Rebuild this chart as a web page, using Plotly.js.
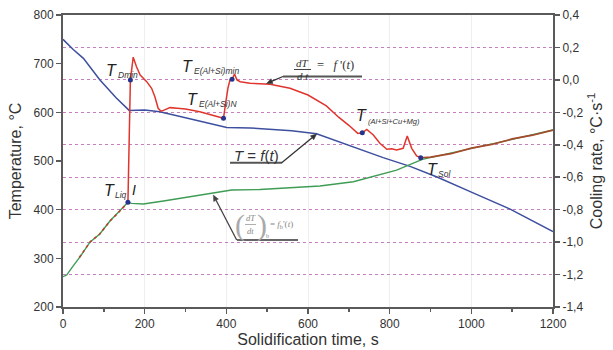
<!DOCTYPE html>
<html><head><meta charset="utf-8">
<script src="https://cdn.plot.ly/plotly-3.0.1.min.js"></script>
<style>html,body{margin:0;padding:0;background:#fff;}#chart{width:613px;height:350px;}</style>
</head><body><div id="chart"></div>
<script>
// ---- Temperature curve T = f(t), left axis (°C)
const tempTime = [0, 25, 50, 90, 130, 162, 200, 237, 300, 360, 401, 458, 507, 560, 621, 670, 722, 784, 850, 916, 1000, 1095, 1200];
const tempVal  = [750, 729, 711, 667, 630, 604, 605, 601, 589, 577, 569, 568, 565, 562, 556, 541, 525, 507, 489, 467, 436, 401, 355];

// ---- Base line (dT/dt)b = fb(t), right axis (°C/s)
const baseTime = [0, 9, 21, 42, 66, 90, 115, 135, 159, 168, 197, 250, 300, 368, 413, 482, 560, 629, 711, 752, 817, 880, 950, 1000, 1100, 1200];
const baseRate = [-1.213, -1.203, -1.16, -1.09, -1.0, -0.95, -0.87, -0.82, -0.755, -0.761, -0.765, -0.745, -0.725, -0.70, -0.679, -0.676, -0.666, -0.654, -0.628, -0.60, -0.556, -0.49, -0.452, -0.424, -0.367, -0.309];

// ---- Cooling rate dT/dt = f'(t), right axis (°C/s)
const rateEarlyTime = [40, 66, 90, 115, 135, 159];
const rateEarlyVal  = [-1.095, -1.0, -0.95, -0.87, -0.82, -0.755];
const rateTime = [159, 162, 165, 172, 180, 189, 197, 205, 217, 225, 233, 240, 246, 262, 280, 300, 335, 376, 393, 398, 404, 409, 414, 420, 426, 434, 458, 507, 556, 600, 645, 675, 700, 722, 733, 744, 760, 776, 793, 805, 817, 833, 843, 854, 866, 876];
const rateVal  = [-0.755, -0.40, 0.0, 0.14, 0.081, 0.03, 0.012, -0.011, -0.052, -0.104, -0.175, -0.193, -0.188, -0.171, -0.175, -0.18, -0.196, -0.223, -0.237, -0.15, -0.05, 0.0, 0.004, 0.036, 0.0, -0.011, -0.021, -0.027, -0.052, -0.093, -0.16, -0.23, -0.28, -0.33, -0.326, -0.305, -0.34, -0.391, -0.428, -0.425, -0.432, -0.422, -0.346, -0.422, -0.469, -0.48];
const rateLateTime = [876, 900, 950, 1000, 1050, 1100, 1150, 1200];
const rateLateVal  = [-0.48, -0.476, -0.455, -0.421, -0.398, -0.364, -0.341, -0.309];

// ---- Characteristic points (on the cooling-rate curve)
const pointTime = [159, 165, 393, 414, 733, 876];
const pointRate = [-0.755, 0.0, -0.237, 0.004, -0.326, -0.48];

// ---- Ticks
const timeTicks = [0, 200, 400, 600, 800, 1000, 1200];
const tempTicks = [200, 300, 400, 500, 600, 700, 800];
const rateTicks = [0.4, 0.2, 0.0, -0.2, -0.4, -0.6, -0.8, -1.0, -1.2, -1.4];
const rateTickText = ['0,4', '0,2', '0,0', '-0,2', '-0,4', '-0,6', '-0,8', '-1,0', '-1,2', '-1,4'];

// pixel -> data helpers for annotation placement (plot area 63..553 x 15..307)
const PX = p => (p - 63) / 490 * 1200;
const PY = p => 800 - (p - 15) / 292 * 600;

const SANS = 'Liberation Sans, Arial, sans-serif';
const SERIF = 'Liberation Serif, Times New Roman, serif';

const traces = [
  {x: tempTime, y: tempVal, yaxis: 'y', mode: 'lines', line: {color: '#3d4f9e', width: 1.5}, hoverinfo: 'skip'},
  {x: baseTime, y: baseRate, yaxis: 'y2', mode: 'lines', line: {color: '#3f9c55', width: 1.4}, hoverinfo: 'skip'},
  {x: rateEarlyTime, y: rateEarlyVal, yaxis: 'y2', mode: 'lines', line: {color: '#b8442e', width: 1.6, dash: 'dot'}, hoverinfo: 'skip'},
  {x: rateTime, y: rateVal, yaxis: 'y2', mode: 'lines', line: {color: '#e0352d', width: 1.5}, hoverinfo: 'skip'},
  {x: rateLateTime, y: rateLateVal, yaxis: 'y2', mode: 'lines', line: {color: '#a64a2c', width: 1.7}, hoverinfo: 'skip'},
  {x: pointTime, y: pointRate, yaxis: 'y2', mode: 'markers', marker: {color: '#27348c', size: 5}, hoverinfo: 'skip'}
];

function tLabel(cx, cy, sub, subX, subY, subSize) {
  return [
    {x: PX(cx), y: PY(cy), text: '<i>T</i>', showarrow: false, xanchor: 'center', yanchor: 'middle',
     font: {family: SANS, size: 16, color: '#222'}},
    {x: PX(subX), y: PY(subY), text: '<i>' + sub + '</i>', showarrow: false, xanchor: 'left', yanchor: 'middle',
     font: {family: SANS, size: subSize, color: '#333'}}
  ];
}

// pointer line + filled arrowhead, as shapes (pixel positions converted to data coords)
function pointerShapes(tipX, tipY, tailX, tailY, color) {
  const dx = tipX - tailX, dy = tipY - tailY, L = Math.hypot(dx, dy);
  const ux = dx / L, uy = dy / L, nx = -uy, ny = ux;
  const bx = tipX - ux * 6, by = tipY - uy * 6;
  const p1 = [bx + nx * 2.6, by + ny * 2.6], p2 = [bx - nx * 2.6, by - ny * 2.6];
  return [
    {type: 'line', xref: 'x', yref: 'y', x0: PX(tailX), y0: PY(tailY), x1: PX(bx), y1: PY(by), line: {color: color, width: 1.3}},
    {type: 'path', xref: 'x', yref: 'y', fillcolor: color, line: {color: color, width: 0.5},
     path: 'M ' + PX(tipX) + ',' + PY(tipY) + ' L ' + PX(p1[0]) + ',' + PY(p1[1]) + ' L ' + PX(p2[0]) + ',' + PY(p2[1]) + ' Z'}
  ];
}

const annotations = [].concat(
  tLabel(111, 70, 'Dmin', 116, 75, 8.5),
  tLabel(187, 66, 'E(Al+Si)min', 192, 71, 8.5),
  tLabel(192, 99, 'E(Al+Si)N', 197, 104, 8.5),
  tLabel(361, 115, '(Al+Si+Cu+Mg)', 366, 121, 7.5),
  tLabel(432, 169, 'Sol', 436, 174, 8.5),
  tLabel(109, 190, 'Liq', 113, 195, 8.5),
  [
    {x: PX(134), y: PY(190), text: '<i>I</i>', showarrow: false, font: {family: SANS, size: 14, color: '#222'}},
    // dT/dt = f'(t)
    {x: PX(302.5), y: PY(63), text: '<i>dT</i>', showarrow: false, font: {family: SERIF, size: 11, color: '#333'}},
    {x: PX(302.5), y: PY(76), text: '<i>d t</i>', showarrow: false, font: {family: SERIF, size: 11, color: '#333'}},
    {x: PX(315), y: PY(65), text: '=   <i>f</i> \'(<i>t</i>)', xanchor: 'left', showarrow: false, font: {family: SERIF, size: 12.5, color: '#333'}},
    // T = f(t)
    {x: PX(256), y: PY(155), text: '<i>T</i> = <i>f</i>(<i>t</i>)', showarrow: false, font: {family: SANS, size: 15, color: '#333'}},
    // (dT/dt)b = fb'(t)
    {x: PX(240), y: PY(225), text: '(', showarrow: false, font: {family: SERIF, size: 30, color: '#aaa'}},
    {x: PX(261.5), y: PY(225), text: ')', showarrow: false, font: {family: SERIF, size: 30, color: '#aaa'}},
    {x: PX(250.5), y: PY(218), text: '<i>dT</i>', showarrow: false, font: {family: SERIF, size: 8.5, color: '#888'}},
    {x: PX(250.5), y: PY(231), text: '<i>dt</i>', showarrow: false, font: {family: SERIF, size: 8.5, color: '#888'}},
    {x: PX(264), y: PY(236), text: 'b', xanchor: 'left', showarrow: false, font: {family: SERIF, size: 6, color: '#888'}},
    {x: PX(268), y: PY(224), text: '= <i>f</i><sub>b</sub>\'(<i>t</i>)', xanchor: 'left', showarrow: false, font: {family: SERIF, size: 9, color: '#888'}}
  ]
);

const shapes = [
  {type: 'line', xref: 'x', yref: 'y', x0: PX(283), x1: PX(362), y0: PY(76.5), y1: PY(76.5), line: {color: '#555', width: 2}},
  {type: 'line', xref: 'x', yref: 'y', x0: PX(294), x1: PX(311), y0: PY(69.5), y1: PY(69.5), line: {color: '#444', width: 1}},
  {type: 'line', xref: 'x', yref: 'y', x0: PX(230), x1: PX(282), y0: PY(162.7), y1: PY(162.7), line: {color: '#555', width: 2}},
  {type: 'line', xref: 'x', yref: 'y', x0: PX(237), x1: PX(298), y0: PY(240), y1: PY(240), line: {color: '#666', width: 2}},
  {type: 'line', xref: 'x', yref: 'y', x0: PX(245), x1: PX(256), y0: PY(224.5), y1: PY(224.5), line: {color: '#999', width: 0.8}}
].concat(
  pointerShapes(266.5, 83.5, 283, 76.5, '#333'),
  pointerShapes(316.7, 134, 281.7, 162.7, '#333'),
  pointerShapes(213.3, 195, 236.7, 240, '#444')
);

const axisCommon = {
  showline: true, linecolor: '#5a5a5a', linewidth: 2, ticks: 'outside', ticklen: 5, tickwidth: 1.5,
  tickcolor: '#5a5a5a', zeroline: false, tickfont: {family: SANS, size: 12, color: '#333'}
};

const layout = {
  width: 613, height: 350,
  margin: {l: 63, r: 60, t: 15, b: 43},
  paper_bgcolor: '#fff', plot_bgcolor: '#fff',
  showlegend: false,
  font: {family: SANS, color: '#333'},
  xaxis: Object.assign({}, axisCommon, {
    range: [0, 1200], tickvals: timeTicks, mirror: true,
    showgrid: true, gridcolor: '#efefef', gridwidth: 1,
    minor: {dtick: 100, tick0: 0, ticks: 'outside', ticklen: 3, tickcolor: '#5a5a5a', showgrid: false},
    title: {text: 'Solidification time, s', font: {family: SANS, size: 16, color: '#333'}, standoff: 3}
  }),
  yaxis: Object.assign({}, axisCommon, {
    range: [200, 800], tickvals: tempTicks, showgrid: false,
    title: {text: 'Temperature, °C', font: {family: SANS, size: 16, color: '#333'}, standoff: 8}
  }),
  yaxis2: Object.assign({}, axisCommon, {
    overlaying: 'y', side: 'right', range: [-1.4, 0.4],
    tickvals: rateTicks, ticktext: rateTickText,
    showgrid: true, gridcolor: '#c77fbf', griddash: 'dot', gridwidth: 1,
    title: {text: 'Cooling rate, °C·s<sup>-1</sup>', font: {family: SANS, size: 16, color: '#333'}, standoff: 8}
  }),
  annotations: annotations,
  shapes: shapes
};

Plotly.newPlot('chart', traces, layout, {staticPlot: true, displayModeBar: false});
</script></body></html>
